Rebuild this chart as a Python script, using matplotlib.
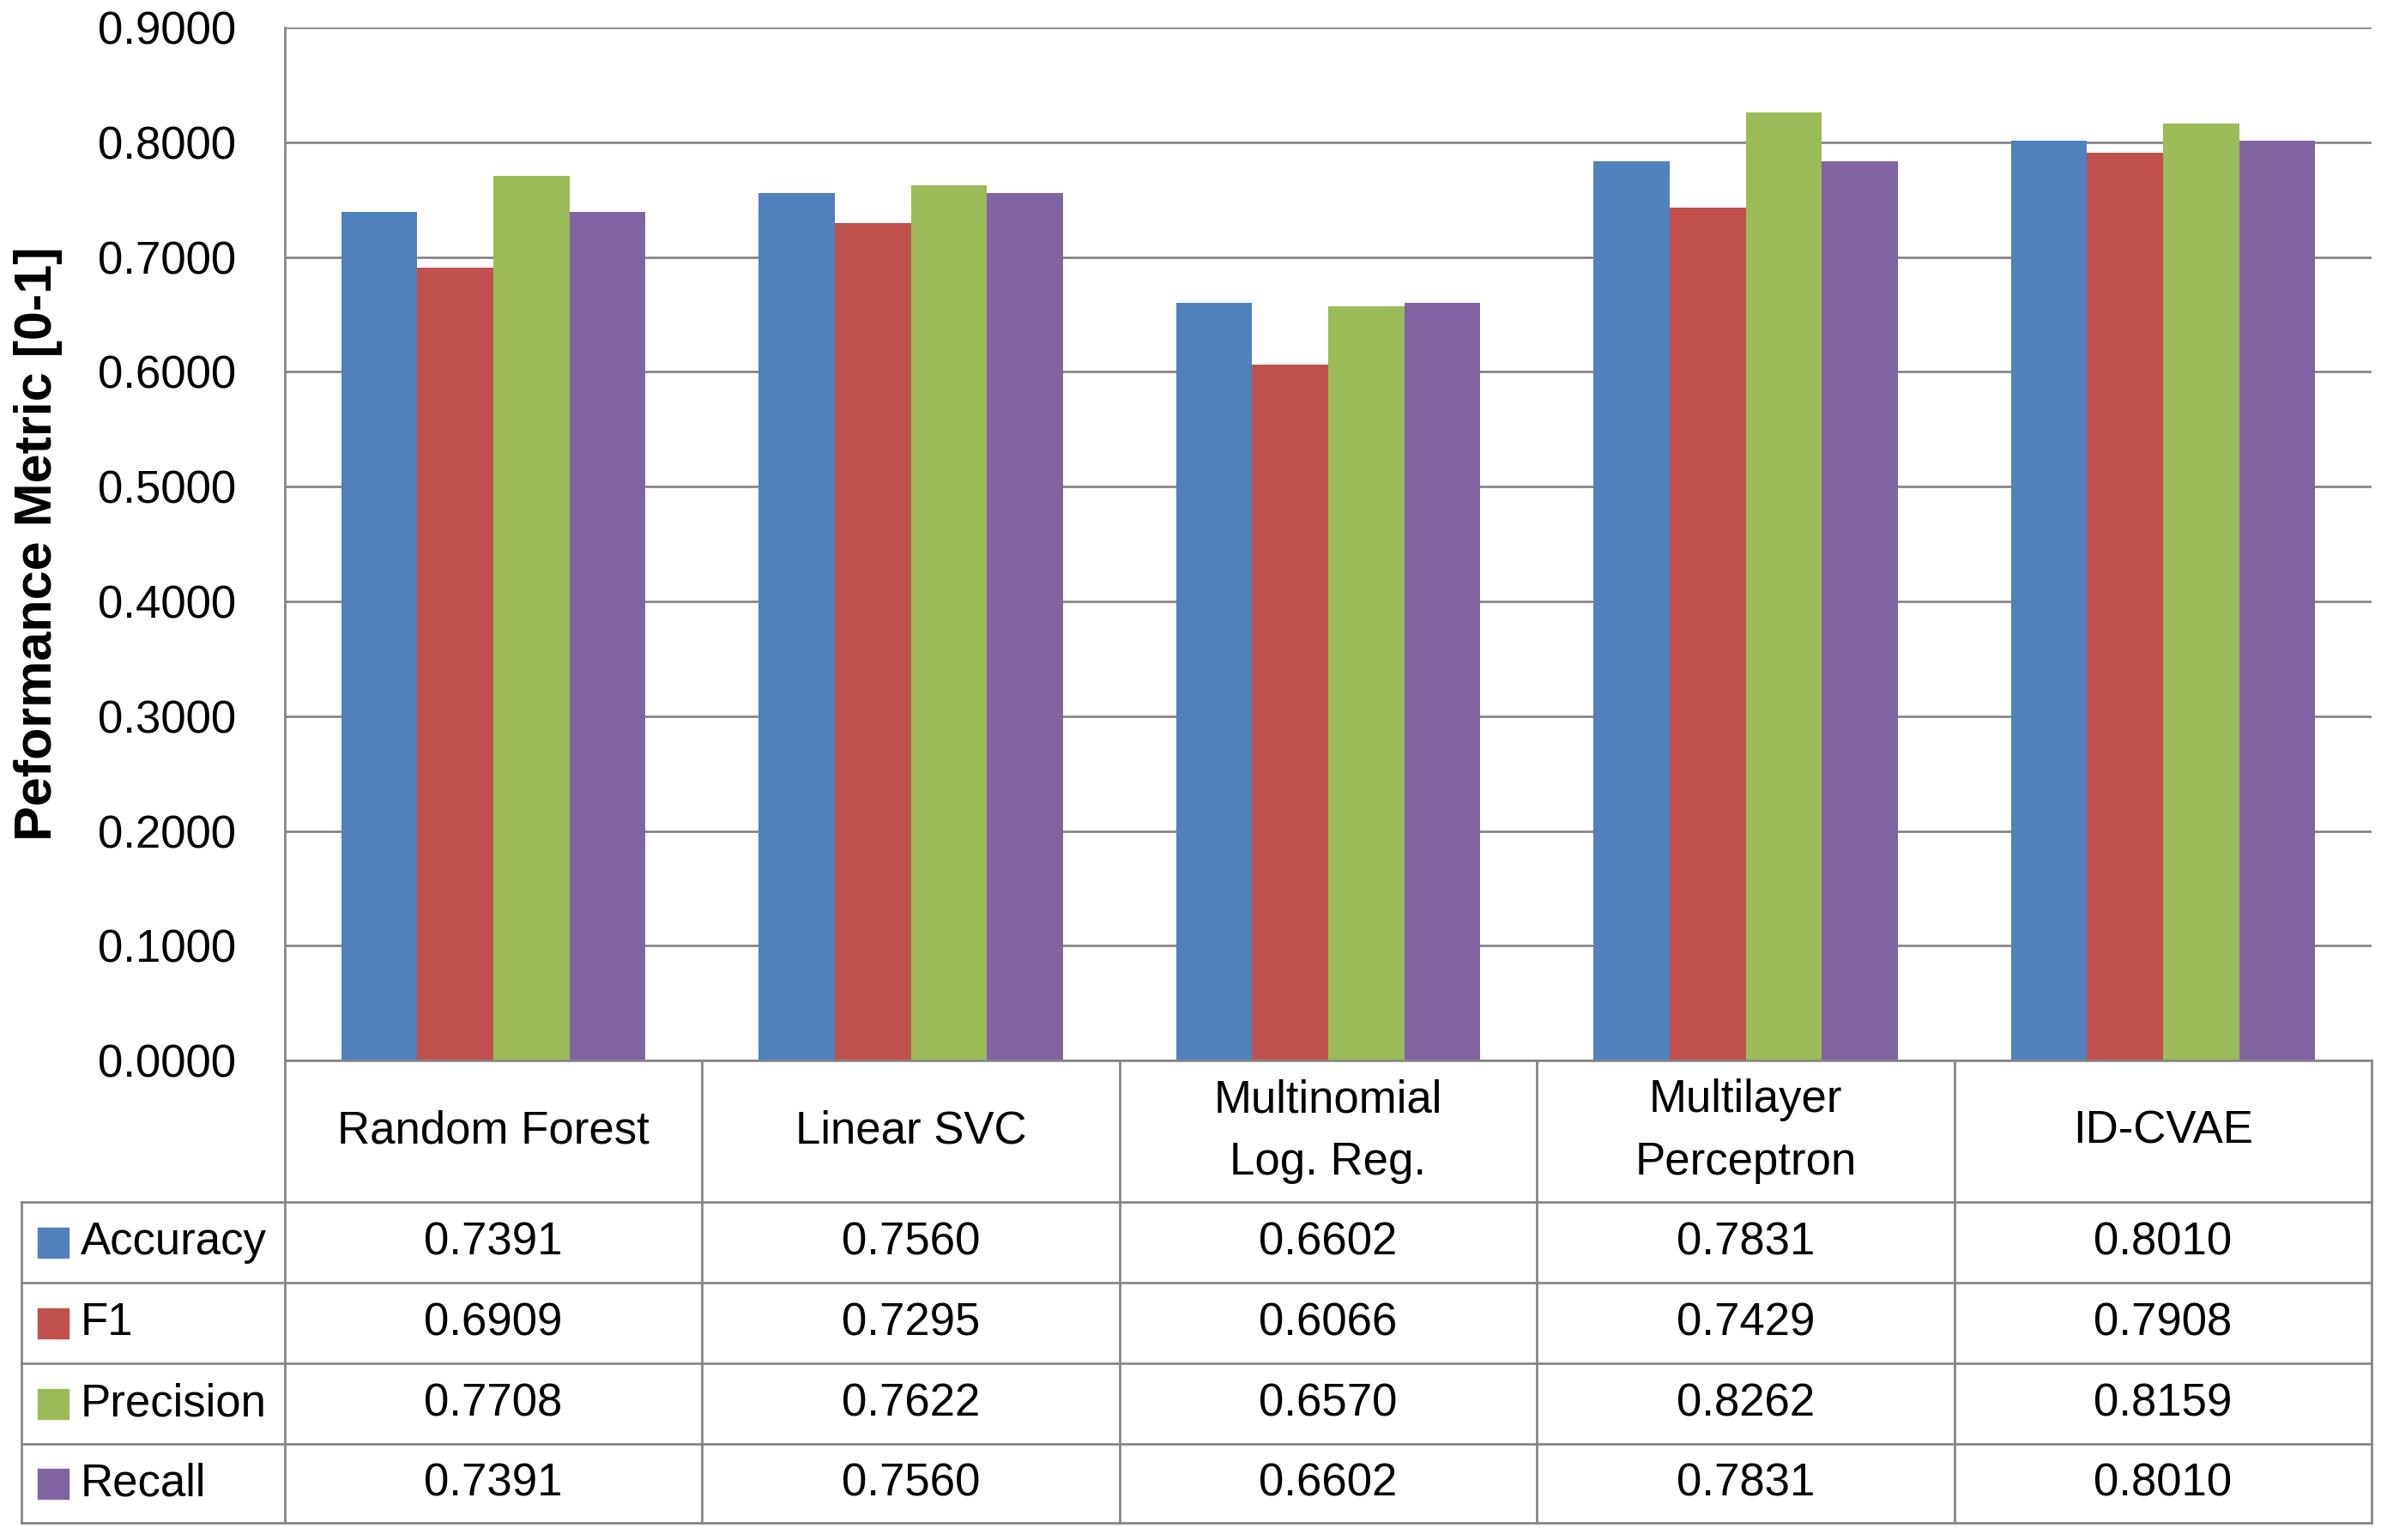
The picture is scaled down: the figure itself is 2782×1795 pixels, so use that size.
import matplotlib
matplotlib.use("Agg")
import matplotlib.pyplot as plt
import matplotlib.transforms as mtransforms
import numpy as np

# data from the chart's table
models = ["Random Forest", "Linear SVC", "Multinomial\nLog. Reg.", "Multilayer\nPerceptron", "ID-CVAE"]
metrics = ["Accuracy", "F1", "Precision", "Recall"]
accuracy = [0.7391, 0.7560, 0.6602, 0.7831, 0.8010]
f1 = [0.6909, 0.7295, 0.6066, 0.7429, 0.7908]
precision = [0.7708, 0.7622, 0.6570, 0.8262, 0.8159]
recall = [0.7391, 0.7560, 0.6602, 0.7831, 0.8010]
colors = ["#4F81BD", "#C0504D", "#9BBB59", "#8064A2"]
yticks = [0.0, 0.1, 0.2, 0.3, 0.4, 0.5, 0.6, 0.7, 0.8, 0.9]

series = [accuracy, f1, precision, recall]

plt.rcParams['font.family'] = ['Liberation Sans', 'DejaVu Sans']
FS = 38
GRID = "#868686"

W, H = 1568, 1012  # layout worked out on a 1568x1012 view of the chart
fig = plt.figure(figsize=(27.82, 17.95), dpi=100)
ax = fig.add_axes([187 / W, 1 - 697 / H, (1558 - 187) / W, (697 - 18) / H])

n = len(models)
x = np.arange(n) + 0.5
bw = 0.182
for i, (vals, col) in enumerate(zip(series, colors)):
    ax.bar(x + (i - 1.5) * bw, vals, width=bw, color=col, zorder=3)

ax.set_xlim(0, n)
ax.set_ylim(0, 0.9)
ax.set_yticks(yticks)
ax.set_yticklabels([f"{v:.4f}" for v in yticks], fontsize=FS)
ax.set_xticks([])
ax.tick_params(axis='y', length=0, pad=41)
ax.yaxis.grid(True, color=GRID, linewidth=2, zorder=0)
for s in ["top", "right", "bottom"]:
    ax.spines[s].set_visible(False)
ax.spines["left"].set_color(GRID)
ax.spines["left"].set_linewidth(2)

fig.text(25 / W, 1 - 357 / H, "Peformance Metric [0-1]", rotation=90, fontsize=44,
         fontweight="bold", ha="center", va="center")

# table below the plot: x in data units, y in figure units
tr = mtransforms.blended_transform_factory(ax.transData, fig.transFigure)
col_px = 274.2
left_x = (14 - 187) / col_px
rows_y = [697, 790, 843, 896, 949, 1001]
fy = [1 - r / H for r in rows_y]

def hline(x0, x1, y):
    ax.plot([x0, x1], [y, y], transform=tr, color=GRID, lw=2, clip_on=False, zorder=5)

def vline(xx, y0, y1):
    ax.plot([xx, xx], [y0, y1], transform=tr, color=GRID, lw=2, clip_on=False, zorder=5)

hline(0, n, fy[0])
for y in fy[1:]:
    hline(left_x, n, y)
for k in range(n + 1):
    vline(k, fy[0], fy[-1])
vline(left_x, fy[1], fy[-1])

for j, name in enumerate(models):
    ax.text(j + 0.5, (fy[0] + fy[1]) / 2, name, transform=tr, ha="center", va="center",
            fontsize=FS, linespacing=1.6, clip_on=False)

sq = 20 / col_px
for i, (m, vals, col) in enumerate(zip(metrics, series, colors)):
    yc = (fy[i + 1] + fy[i + 2]) / 2
    ax.add_patch(plt.Rectangle((left_x + 11 / col_px, yc - 10 / H), sq, 20 / H,
                               transform=tr, color=col, clip_on=False, zorder=6))
    ax.text(left_x + 39 / col_px, yc, m, transform=tr, ha="left", va="center",
            fontsize=FS, clip_on=False)
    for j, v in enumerate(vals):
        ax.text(j + 0.5, yc, f"{v:.4f}", transform=tr, ha="center", va="center",
                fontsize=FS, clip_on=False)

fig.savefig("out.png", dpi=100, facecolor="white")
